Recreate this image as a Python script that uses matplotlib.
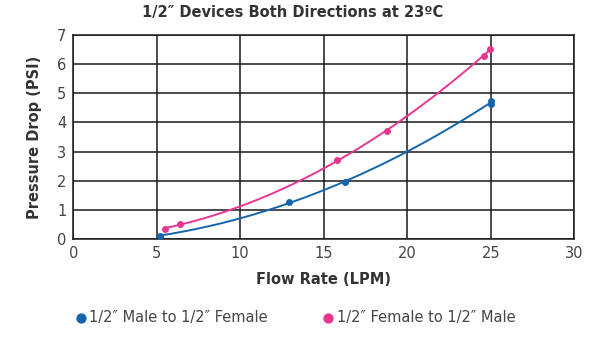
#!/usr/bin/env python3
"""Pressure drop vs flow rate for 1/2" devices in both directions."""

import numpy as np
import matplotlib

matplotlib.use("Agg")
import matplotlib.pyplot as plt

male_flow = [5.2, 12.9, 16.3, 25.0, 25.0]
male_psi = [0.11, 1.26, 1.95, 4.75, 4.62]
female_flow = [5.5, 6.4, 15.8, 18.8, 24.6, 24.95]
female_psi = [0.34, 0.52, 2.70, 3.71, 6.29, 6.52]

series_labels = ["1/2\u2033 Male to 1/2\u2033 Female", "1/2\u2033 Female to 1/2\u2033 Male"]
x_ticks = [0, 5, 10, 15, 20, 25, 30]
y_ticks = [0, 1, 2, 3, 4, 5, 6, 7]

BLUE = "#1565ad"
PINK = "#e8368f"
TEXT = "#333333"

plt.rcParams["font.family"] = ["DejaVu Sans"]


def trend(ax, xs, ys, color):
    # second-order trendline through the measured points
    coef = np.polyfit(xs, ys, 2)
    xx = np.linspace(min(xs), max(xs), 200)
    ax.plot(xx, np.polyval(coef, xx), color=color, lw=1.4, zorder=3)


def main() -> int:
    fig = plt.figure(figsize=(6.0, 3.37), dpi=100)
    ax = fig.add_axes([0.122, 0.291, 0.835, 0.605])

    trend(ax, male_flow, male_psi, BLUE)
    trend(ax, female_flow, female_psi, PINK)
    ax.scatter(male_flow, male_psi, s=16, color=BLUE, zorder=4, label=series_labels[0])
    ax.scatter(female_flow, female_psi, s=16, color=PINK, zorder=4, label=series_labels[1])

    ax.set_xlim(0, 30)
    ax.set_ylim(0, 7)
    ax.set_xticks(x_ticks)
    ax.set_yticks(y_ticks)
    ax.grid(True, color="#1a1a1a", lw=1.1)
    ax.set_axisbelow(True)
    for sp in ax.spines.values():
        sp.set_color("#1a1a1a")
        sp.set_linewidth(1.1)
    ax.tick_params(length=0, pad=5, labelsize=10.5, labelcolor="#444444")

    ax.set_xlabel("Flow Rate (LPM)", fontsize=10.5, fontweight="bold", color=TEXT, labelpad=8)
    ax.set_ylabel("Pressure Drop (PSI)", fontsize=10.5, fontweight="bold", color=TEXT, labelpad=11)
    fig.text(0.487, 0.962, "1/2\u2033 Devices Both Directions at 23\u00baC", ha="center",
             va="center", fontsize=10.5, fontweight="bold", color=TEXT)

    ax.legend(loc="upper left", bbox_to_anchor=(-0.026, -0.285), ncol=2, frameon=False,
              fontsize=10.5, labelcolor="#444444", handletextpad=0.1, columnspacing=3.6,
              markerscale=1.6, handlelength=1.0)

    fig.savefig("out.png", dpi=100)
    plt.close(fig)
    return 0


if __name__ == "__main__":
    raise SystemExit(main())
